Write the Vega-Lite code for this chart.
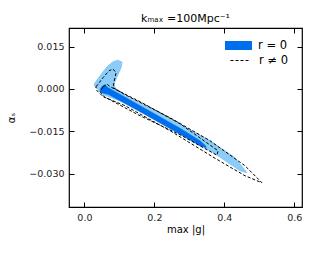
{
  "$schema": "https://vega.github.io/schema/vega-lite/v6.json",
  "width": 233,
  "height": 179,
  "autosize": {"type": "none"},
  "padding": {"left": 69, "top": 28, "right": 10, "bottom": 46},
  "title": {"text": "kₘₐₓ =100Mpc⁻¹", "font": "DejaVu Sans", "fontSize": 11, "fontWeight": "normal", "offset": 4, "color": "black"},
  "config": {
    "view": {"stroke": "black", "strokeWidth": 1.2},
    "font": "DejaVu Sans",
    "axis": {"grid": false, "domain": false, "labelFont": "DejaVu Sans", "labelFontSize": 9.5, "labelColor": "#222", "tickColor": "black", "tickSize": -5, "titleFont": "DejaVu Sans", "titleFontSize": 10, "titleFontWeight": "normal", "titleColor": "black"},
    "legend": {"labelFont": "DejaVu Sans", "labelFontSize": 11.5, "labelColor": "black", "padding": 0, "title": null}
  },
  "datasets": {
    "pts": [
      {"contour": "r0_95", "i": 1, "x": 0.0820, "y": 0.00968},
      {"contour": "r0_95", "i": 2, "x": 0.0963, "y": 0.01021},
      {"contour": "r0_95", "i": 3, "x": 0.1077, "y": 0.00950},
      {"contour": "r0_95", "i": 4, "x": 0.1049, "y": 0.00755},
      {"contour": "r0_95", "i": 5, "x": 0.0934, "y": 0.00436},
      {"contour": "r0_95", "i": 6, "x": 0.0849, "y": 0.00188},
      {"contour": "r0_95", "i": 7, "x": 0.0877, "y": 0.00046},
      {"contour": "r0_95", "i": 8, "x": 0.1163, "y": -0.00238},
      {"contour": "r0_95", "i": 9, "x": 0.1877, "y": -0.00681},
      {"contour": "r0_95", "i": 10, "x": 0.2449, "y": -0.01053},
      {"contour": "r0_95", "i": 11, "x": 0.3591, "y": -0.01833},
      {"contour": "r0_95", "i": 12, "x": 0.4306, "y": -0.02436},
      {"contour": "r0_95", "i": 13, "x": 0.4649, "y": -0.02968},
      {"contour": "r0_95", "i": 14, "x": 0.4449, "y": -0.02900},
      {"contour": "r0_95", "i": 15, "x": 0.3734, "y": -0.02294},
      {"contour": "r0_95", "i": 16, "x": 0.2449, "y": -0.01372},
      {"contour": "r0_95", "i": 17, "x": 0.1163, "y": -0.00485},
      {"contour": "r0_95", "i": 18, "x": 0.0534, "y": -0.00202},
      {"contour": "r0_95", "i": 19, "x": 0.0306, "y": 0.00082},
      {"contour": "r0_95", "i": 20, "x": 0.0277, "y": 0.00170},
      {"contour": "r0_95", "i": 21, "x": 0.0449, "y": 0.00472},
      {"contour": "r0_95", "i": 22, "x": 0.0649, "y": 0.00791},

      {"contour": "r1_95", "series": "r ≠ 0", "i": 1, "x": 0.0334, "y": 0.00082},
      {"contour": "r1_95", "series": "r ≠ 0", "i": 2, "x": 0.0534, "y": 0.00401},
      {"contour": "r1_95", "series": "r ≠ 0", "i": 3, "x": 0.0706, "y": 0.00649},
      {"contour": "r1_95", "series": "r ≠ 0", "i": 4, "x": 0.0820, "y": 0.00702},
      {"contour": "r1_95", "series": "r ≠ 0", "i": 5, "x": 0.0906, "y": 0.00578},
      {"contour": "r1_95", "series": "r ≠ 0", "i": 6, "x": 0.0849, "y": 0.00259},
      {"contour": "r1_95", "series": "r ≠ 0", "i": 7, "x": 0.0820, "y": 0.00046},
      {"contour": "r1_95", "series": "r ≠ 0", "i": 8, "x": 0.1163, "y": -0.00202},
      {"contour": "r1_95", "series": "r ≠ 0", "i": 9, "x": 0.2449, "y": -0.01018},
      {"contour": "r1_95", "series": "r ≠ 0", "i": 10, "x": 0.3591, "y": -0.01833},
      {"contour": "r1_95", "series": "r ≠ 0", "i": 11, "x": 0.4591, "y": -0.02720},
      {"contour": "r1_95", "series": "r ≠ 0", "i": 12, "x": 0.5077, "y": -0.03323},
      {"contour": "r1_95", "series": "r ≠ 0", "i": 13, "x": 0.4591, "y": -0.03074},
      {"contour": "r1_95", "series": "r ≠ 0", "i": 14, "x": 0.3734, "y": -0.02454},
      {"contour": "r1_95", "series": "r ≠ 0", "i": 15, "x": 0.2449, "y": -0.01479},
      {"contour": "r1_95", "series": "r ≠ 0", "i": 16, "x": 0.1163, "y": -0.00592},
      {"contour": "r1_95", "series": "r ≠ 0", "i": 17, "x": 0.0534, "y": -0.00273},
      {"contour": "r1_95", "series": "r ≠ 0", "i": 18, "x": 0.0334, "y": -0.00025},

      {"contour": "r1_68", "series": "r ≠ 0", "i": 1, "x": 0.0534, "y": 0.00082},
      {"contour": "r1_68", "series": "r ≠ 0", "i": 2, "x": 0.0649, "y": 0.00170},
      {"contour": "r1_68", "series": "r ≠ 0", "i": 3, "x": 0.0734, "y": 0.00082},
      {"contour": "r1_68", "series": "r ≠ 0", "i": 4, "x": 0.1591, "y": -0.00450},
      {"contour": "r1_68", "series": "r ≠ 0", "i": 5, "x": 0.2734, "y": -0.01230},
      {"contour": "r1_68", "series": "r ≠ 0", "i": 6, "x": 0.3820, "y": -0.02188},
      {"contour": "r1_68", "series": "r ≠ 0", "i": 7, "x": 0.3791, "y": -0.02347},
      {"contour": "r1_68", "series": "r ≠ 0", "i": 8, "x": 0.2734, "y": -0.01620},
      {"contour": "r1_68", "series": "r ≠ 0", "i": 9, "x": 0.1591, "y": -0.00947},
      {"contour": "r1_68", "series": "r ≠ 0", "i": 10, "x": 0.0563, "y": -0.00273},
      {"contour": "r1_68", "series": "r ≠ 0", "i": 11, "x": 0.0449, "y": -0.00096}
    ],
    "dark": [
      {"series": "r = 0", "x": 0.0449, "lo": -0.00078, "hi": -0.00025},
      {"series": "r = 0", "x": 0.0506, "lo": -0.00131, "hi": 0.00099},
      {"series": "r = 0", "x": 0.0591, "lo": -0.00167, "hi": 0.00152},
      {"series": "r = 0", "x": 0.0677, "lo": -0.00184, "hi": 0.00046},
      {"series": "r = 0", "x": 0.1591, "lo": -0.00805, "hi": -0.00592},
      {"series": "r = 0", "x": 0.2734, "lo": -0.01602, "hi": -0.01390},
      {"series": "r = 0", "x": 0.3306, "lo": -0.02010, "hi": -0.01833},
      {"series": "r = 0", "x": 0.3477, "lo": -0.02081, "hi": -0.02028}
    ]
  },
  "resolve": {"axis": {"x": "independent", "y": "independent"}},
  "layer": [
    {
      "data": {"name": "pts"},
      "transform": [{"filter": "datum.contour === 'r0_95'"}],
      "mark": {"type": "line", "interpolate": "linear-closed", "fill": "#8CCDF7", "stroke": "#7CC3F5", "strokeWidth": 0.8},
      "encoding": {
        "x": {"field": "x", "type": "quantitative", "scale": {"domain": [-0.044, 0.622], "nice": false, "zero": false},
              "axis": {"values": [0, 0.2, 0.4, 0.6], "format": ".1f", "title": "max |g|", "labelPadding": 10, "titlePadding": 3}},
        "y": {"field": "y", "type": "quantitative", "scale": {"domain": [-0.0418, 0.0216], "nice": false, "zero": false},
              "axis": {"values": [0.015, 0, -0.015, -0.03], "format": ".3f", "title": "αₛ", "labelPadding": 10, "titlePadding": 12}},
        "order": {"field": "i", "type": "quantitative"}
      }
    },
    {
      "data": {"name": "dark"},
      "mark": {"type": "area", "stroke": "#006FED", "strokeWidth": 0.6},
      "encoding": {
        "x": {"field": "x", "type": "quantitative", "axis": {"orient": "top", "values": [0, 0.2, 0.4, 0.6], "labels": false, "title": null}},
        "y": {"field": "lo", "type": "quantitative", "axis": {"orient": "right", "values": [0.015, 0, -0.015, -0.03], "labels": false, "title": null}},
        "y2": {"field": "hi"},
        "color": {"field": "series", "type": "nominal", "scale": {"domain": ["r = 0"], "range": ["#006FED"]},
                  "legend": {"orient": "none", "legendX": 156, "legendY": 4, "symbolType": "M-1,-0.333H1V0.333H-1Z", "symbolSize": 729, "symbolStrokeWidth": 0, "labelOffset": 6}}
      }
    },
    {
      "data": {"name": "pts"},
      "transform": [{"filter": "datum.series === 'r ≠ 0'"}],
      "mark": {"type": "line", "interpolate": "linear-closed", "strokeWidth": 1, "color": "black"},
      "encoding": {
        "x": {"field": "x", "type": "quantitative", "axis": null},
        "y": {"field": "y", "type": "quantitative", "axis": null},
        "order": {"field": "i", "type": "quantitative"},
        "detail": {"field": "contour"},
        "strokeDash": {"field": "series", "type": "nominal", "scale": {"domain": ["r ≠ 0"], "range": [[3, 2]]},
                       "legend": {"orient": "none", "legendX": 161, "legendY": 23, "symbolType": "stroke", "symbolSize": 324, "symbolStrokeWidth": 1, "symbolStrokeColor": "black", "labelOffset": 10}}
      }
    }
  ]
}
